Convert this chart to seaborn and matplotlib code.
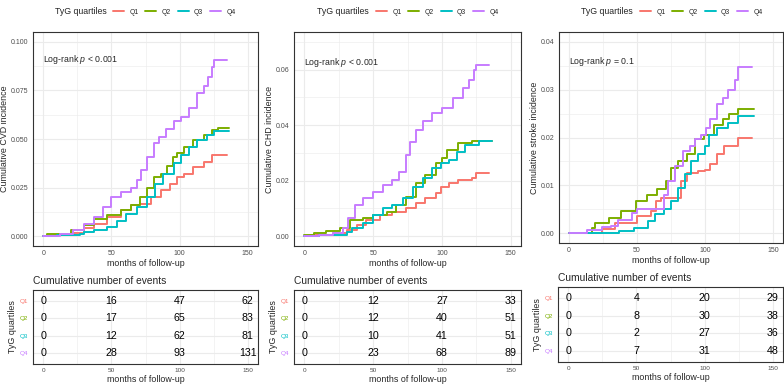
# -*- coding: utf-8 -*-
"""
Cumulative incidence of CVD, CHD and stroke by TyG quartiles,
with cumulative number of events tables underneath.
"""

import pandas as pd
import seaborn as sns
import matplotlib.pyplot as plt
from matplotlib.lines import Line2D
from matplotlib.ticker import MultipleLocator, FormatStrFormatter

# -------------------------------------------------------------------
# Data
# -------------------------------------------------------------------

groups = ["Q1", "Q2", "Q3", "Q4"]
colors = ["#F8766D", "#7CAE00", "#00BFC4", "#C77CFF"]

# CVD curves: change points (months) and cumulative incidence
cvd_t_q1 = [0, 8, 22, 30, 37, 47, 57, 64, 71, 79, 86, 93, 98, 103, 110, 118, 124, 135]
cvd_q1 = [0, 0.0005, 0.0017, 0.004, 0.0065, 0.010, 0.0134, 0.016, 0.0168, 0.020,
          0.0237, 0.027, 0.0306, 0.032, 0.0357, 0.038, 0.0416, 0.0416]
cvd_t_q2 = [0, 3, 12, 20, 30, 37, 47, 57, 64, 71, 76, 81, 86, 91, 95, 98, 103, 110,
            118, 124, 128, 136]
cvd_q2 = [0, 0.001, 0.0014, 0.0034, 0.006, 0.009, 0.011, 0.0134, 0.016, 0.020, 0.025,
          0.0306, 0.032, 0.036, 0.041, 0.0426, 0.046, 0.0493, 0.052, 0.0546, 0.0558, 0.0558]
cvd_t_q3 = [0, 10, 27, 30, 37, 47, 54, 61, 69, 76, 82, 88, 96, 101, 107, 113, 120, 125, 136]
cvd_q3 = [0, 0.0005, 0.001, 0.0022, 0.003, 0.005, 0.008, 0.0117, 0.015, 0.020, 0.027,
          0.032, 0.0375, 0.042, 0.046, 0.0495, 0.052, 0.0541, 0.0541]
cvd_t_q4 = [0, 12, 22, 30, 37, 44, 50, 57, 64, 69, 72, 76, 81, 85, 90, 96, 101, 107,
            113, 118, 121, 124, 125, 135]
cvd_q4 = [0, 0.001, 0.003, 0.0065, 0.010, 0.015, 0.020, 0.023, 0.025, 0.029, 0.034,
          0.041, 0.048, 0.051, 0.055, 0.059, 0.0615, 0.066, 0.0735, 0.077, 0.082,
          0.087, 0.0904, 0.0904]

# CHD curves
chd_t_q1 = [0, 7, 21, 31, 38, 45, 55, 64, 74, 81, 88, 96, 99, 105, 112, 122, 124.5, 134.5]
chd_q1 = [0, 0.0006, 0.0012, 0.0022, 0.004, 0.0058, 0.0076, 0.0088, 0.010, 0.0118,
          0.0136, 0.0154, 0.0178, 0.019, 0.0202, 0.021, 0.0227, 0.0227]
chd_t_q2 = [0, 7, 16, 26, 33, 43, 50, 60, 67, 74, 81, 88, 96, 100, 104, 112, 122, 136.5]
chd_q2 = [0.0005, 0.001, 0.0018, 0.0028, 0.0058, 0.0066, 0.0076, 0.0088, 0.0112,
          0.0142, 0.019, 0.022, 0.0263, 0.028, 0.031, 0.0335, 0.0343, 0.0343]
chd_t_q3 = [0, 11, 31, 35, 43, 50, 57, 64, 72, 79, 86, 93, 99, 105, 111, 117, 127, 136.5]
chd_q3 = [0, 0.0005, 0.0016, 0.0028, 0.0046, 0.0076, 0.010, 0.0112, 0.0136, 0.0178,
          0.0208, 0.0245, 0.0263, 0.0275, 0.0305, 0.033, 0.0343, 0.0343]
chd_t_q4 = [0, 11, 21, 28, 32, 37, 43, 50, 57, 64, 69, 74, 77, 81, 86, 93, 100, 108,
            115, 120, 123, 124.5, 134]
chd_q4 = [0, 0.0005, 0.001, 0.0028, 0.0064, 0.0112, 0.0136, 0.016, 0.0184, 0.0202,
          0.0233, 0.0293, 0.034, 0.0383, 0.0413, 0.0443, 0.0461, 0.0498, 0.0534,
          0.0564, 0.060, 0.0618, 0.0618]

# Stroke curves
str_t_q1 = [0, 24, 34, 50, 60, 64, 68, 82, 87, 95, 100, 104, 109, 114, 124, 135]
str_q1 = [0, 0.001, 0.0022, 0.0036, 0.0047, 0.0067, 0.0074, 0.0109, 0.0126, 0.013,
          0.0133, 0.0144, 0.0165, 0.0182, 0.0198, 0.0198]
str_t_q2 = [0, 17, 19, 29, 38, 49, 57, 65, 71, 75, 80, 87, 93, 99, 107, 113, 118, 124, 136.5]
str_q2 = [0, 0.0012, 0.0022, 0.0033, 0.0047, 0.0067, 0.0081, 0.0092, 0.0109, 0.0137,
          0.0151, 0.0165, 0.0196, 0.0206, 0.0227, 0.0238, 0.0248, 0.026, 0.026]
str_t_q3 = [0, 37, 48, 58, 63, 70, 75, 80, 85, 90, 95, 100, 103, 109, 117, 124, 136.5]
str_q3 = [0, 0.0005, 0.0012, 0.0026, 0.004, 0.005, 0.0067, 0.0095, 0.0123, 0.0151,
          0.0165, 0.0182, 0.0206, 0.022, 0.023, 0.0244, 0.0244]
str_t_q4 = [0, 13, 24, 31, 36, 46, 50, 61, 70, 73, 78, 84, 89, 93, 97, 101, 104, 109,
            113, 117, 122, 124, 135]
str_q4 = [0, 0.0008, 0.0013, 0.0015, 0.0029, 0.0043, 0.005, 0.005, 0.0081, 0.0109,
          0.014, 0.0172, 0.0182, 0.0196, 0.0206, 0.022, 0.0238, 0.0269, 0.0283, 0.030,
          0.032, 0.0347, 0.0347]

# Cumulative number of events at 0, 50, 100, 150 months (rows Q1..Q4)
table_times = [0, 50, 100, 150]
cvd_events = [[0, 16, 47, 62], [0, 17, 65, 83], [0, 12, 62, 81], [0, 28, 93, 131]]
chd_events = [[0, 12, 27, 33], [0, 12, 40, 51], [0, 10, 41, 51], [0, 23, 68, 89]]
str_events = [[0, 4, 20, 29], [0, 8, 30, 38], [0, 2, 27, 36], [0, 7, 31, 48]]

ylabels = ["Cumulative CVD incidence", "Cumulative CHD incidence",
           "Cumulative stroke incidence"]
p_texts = [r"Log-rank $p$ < 0.001", r"Log-rank $p$ < 0.001", r"Log-rank $p$ = 0.1"]
p_y = [0.0907, 0.0625, 0.0358]
y_max = [0.1, 0.07, 0.04]
y_major = [0.025, 0.02, 0.01]
y_fmt = ["%.3f", "%.2f", "%.2f"]


def long_df(times, values):
    frames = [pd.DataFrame({"time": t, "inc": v, "group": g})
              for g, t, v in zip(groups, times, values)]
    return pd.concat(frames, ignore_index=True)


curves = [
    long_df([cvd_t_q1, cvd_t_q2, cvd_t_q3, cvd_t_q4], [cvd_q1, cvd_q2, cvd_q3, cvd_q4]),
    long_df([chd_t_q1, chd_t_q2, chd_t_q3, chd_t_q4], [chd_q1, chd_q2, chd_q3, chd_q4]),
    long_df([str_t_q1, str_t_q2, str_t_q3, str_t_q4], [str_q1, str_q2, str_q3, str_q4]),
]
events = [cvd_events, chd_events, str_events]

# -------------------------------------------------------------------
# Style (ggplot theme_bw look)
# -------------------------------------------------------------------

sns.set_style("white")
plt.rcParams['font.family'] = ['Liberation Sans', 'DejaVu Sans']
plt.rcParams['mathtext.fontset'] = 'custom'
plt.rcParams['mathtext.rm'] = 'Liberation Sans'
plt.rcParams['mathtext.it'] = 'Liberation Sans:italic'

GRID = "#EBEBEB"
BORDER = "#333333"
TICKTXT = "#4D4D4D"

W, H = 784, 386
fig = plt.figure(figsize=(W / 100, H / 100), dpi=100)


def px_box(x0, y0, x1, y1):
    # pixel box (top-left origin) -> figure fraction rect
    return [x0 / W, 1 - y1 / H, (x1 - x0) / W, (y1 - y0) / H]


main_boxes = [(33, 32, 258, 246), (294, 32, 521, 246), (559, 32, 783, 243)]
table_boxes = [(33, 290, 258, 364), (294, 290, 521, 364), (558, 287, 783, 362)]
legend_pos = [(107, 113), (369, 376), (633, 640)]


def style_axes(ax, labelsize):
    ax.set_axisbelow(True)
    for s in ax.spines.values():
        s.set_color(BORDER)
        s.set_linewidth(0.8)
    ax.tick_params(which="major", length=2.2, width=0.6, color=BORDER,
                   labelcolor=TICKTXT, labelsize=labelsize, pad=1)
    ax.tick_params(which="minor", length=0)


for i in range(3):
    # ---------------- cumulative incidence curves ----------------
    ax = fig.add_axes(px_box(*main_boxes[i]))
    sns.lineplot(data=curves[i], x="time", y="inc", hue="group",
                 palette=colors, hue_order=groups, estimator=None,
                 drawstyle="steps-post", linewidth=1.4, legend=False, ax=ax)
    ax.set_xlim(-7.5, 157.5)
    ax.set_ylim(-0.05 * y_max[i], 1.05 * y_max[i])
    ax.xaxis.set_major_locator(MultipleLocator(50))
    ax.xaxis.set_minor_locator(MultipleLocator(25))
    ax.yaxis.set_major_locator(MultipleLocator(y_major[i]))
    ax.yaxis.set_minor_locator(MultipleLocator(y_major[i] / 2))
    ax.yaxis.set_major_formatter(FormatStrFormatter(y_fmt[i]))
    ax.grid(which="major", color=GRID, linewidth=0.8)
    ax.grid(which="minor", color=GRID, linewidth=0.4)
    style_axes(ax, 5)
    ax.set_xlabel("months of follow-up", fontsize=6.4, labelpad=1)
    ax.set_ylabel(ylabels[i], fontsize=6.4, labelpad=1.5)
    ax.text(0, p_y[i], p_texts[i], fontsize=6.3, ha="left", va="center")

    # legend on top: title text + four line keys
    tx, lx = legend_pos[i]
    fig.text(tx / W, 1 - 12 / H, "TyG quartiles", fontsize=6.3,
             ha="right", va="center")
    handles = [Line2D([], [], color=c, linewidth=1.4) for c in colors]
    fig.legend(handles, groups, loc="center left",
               bbox_to_anchor=(lx / W, 1 - 12 / H), ncol=4, frameon=False,
               fontsize=4.9, handlelength=1.6, handletextpad=0.8,
               columnspacing=1.0, borderpad=0, borderaxespad=0)

    # ---------------- cumulative number of events table ----------------
    tab = fig.add_axes(px_box(*table_boxes[i]))
    tab.set_xlim(-7.5, 157.5)
    tab.set_ylim(4.6, 0.4)
    tab.xaxis.set_major_locator(MultipleLocator(50))
    tab.xaxis.set_minor_locator(MultipleLocator(25))
    tab.set_yticks([1, 2, 3, 4])
    tab.set_yticklabels(groups)
    tab.grid(which="major", color=GRID, linewidth=0.8)
    tab.grid(which="minor", axis="x", color=GRID, linewidth=0.4)
    style_axes(tab, 4.6)
    for lab, c in zip(tab.get_yticklabels(), colors):
        lab.set_color(c)
    for r, row in enumerate(events[i]):
        for t, n in zip(table_times, row):
            tab.text(t, r + 1, str(n), fontsize=7.7, ha="center", va="center",
                     color="black")
    tab.set_xlabel("months of follow-up", fontsize=6.4, labelpad=1)
    tab.set_ylabel("TyG quartiles", fontsize=6.4, labelpad=2)
    tab.set_title("Cumulative number of events", loc="left", fontsize=7.4, pad=4)

plt.savefig("out.png", dpi=100)
plt.close()
